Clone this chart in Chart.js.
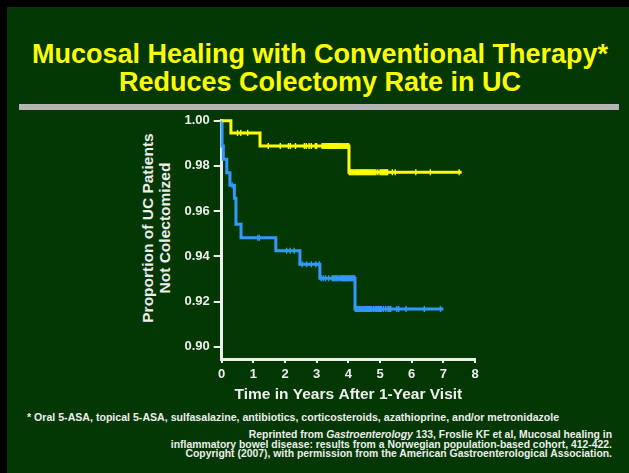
<!DOCTYPE html>
<html>
<head>
<meta charset="utf-8">
<script src="https://cdn.jsdelivr.net/npm/chart.js@4.4.0/dist/chart.umd.min.js"></script>
<style>
  html, body { margin: 0; padding: 0; }
  body { width: 629px; height: 473px; position: relative; overflow: hidden; background: #000; font-family: "Liberation Sans", Arial, sans-serif; }
  #slide { position: absolute; left: 7px; top: 7px; width: 622px; height: 466px; background: #013801; }
  #title { position: absolute; left: 0; top: 40px; width: 640px; text-align: center; color: #ffff00; font-weight: bold; font-size: 27px; line-height: 28px; }
  #rule { position: absolute; left: 19px; top: 104px; width: 600px; height: 6px; background: #b4b4b4; }
  #ytitle { position: absolute; left: 156px; top: 228px; width: 240px; transform: translate(-50%, -50%) rotate(-90deg); text-align: center; color: #eeeeee; font-weight: bold; font-size: 15.5px; line-height: 16.5px; }
  #foot { position: absolute; left: 27px; top: 411px; color: #eeeeee; font-weight: bold; font-size: 10.6px; line-height: 12px; white-space: nowrap; }
  #reprint { position: absolute; right: 17px; top: 430px; color: #eeeeee; font-weight: bold; font-size: 10.4px; line-height: 9.6px; text-align: right; white-space: nowrap; }
  #chart { position: absolute; left: 0; top: 0; }
</style>
</head>
<body>
<div id="slide"></div>
<div id="title">Mucosal Healing with Conventional Therapy*<br>Reduces Colectomy Rate in UC</div>
<div id="rule"></div>
<div id="ytitle">Proportion of UC Patients<br>Not Colectomized</div>
<div id="foot">* Oral 5-ASA, topical 5-ASA, sulfasalazine, antibiotics, corticosteroids, azathioprine, and/or metronidazole</div>
<div id="reprint">Reprinted from <i>Gastroenterology</i> 133, Froslie KF et al, Mucosal healing in<br>inflammatory bowel disease: results from a Norwegian population-based cohort, 412-422.<br>Copyright (2007), with permission from the American Gastroenterological Association.</div>
<canvas id="chart" width="629" height="473"></canvas>
<script>
// Kaplan-Meier steps (time in years, proportion not colectomized)
const yellowTimes = [0, 0.29, 1.21, 4.02, 7.58];
const yellowSurv  = [1.0, 0.9946, 0.9888, 0.9772, 0.9772];

const blueTimes = [0, 0.01, 0.05, 0.16, 0.26, 0.40, 0.45, 0.61, 1.71, 2.47, 3.10, 4.21, 7.00];
const blueSurv  = [1.0, 0.9888, 0.9829, 0.9770, 0.9714, 0.9657, 0.9542, 0.9482, 0.9425, 0.9365, 0.9303, 0.9167, 0.9167];

// censored observations (tick marks)
const yellowCensor = [
  0.50, 0.60, 0.82,
  1.47, 1.85, 2.11, 2.17, 2.33, 2.61, 2.67, 2.76, 2.83, 2.96, 3.00,
  3.17, 3.20, 3.23, 3.26, 3.29, 3.32, 3.35, 3.38, 3.41, 3.44, 3.47, 3.50, 3.53, 3.56, 3.59,
  3.62, 3.65, 3.68, 3.71, 3.74, 3.77, 3.80, 3.83, 3.86, 3.89, 3.92, 3.95, 3.98, 4.01,
  4.03, 4.06, 4.09, 4.12, 4.15, 4.18, 4.21, 4.24, 4.27, 4.29,
  4.33, 4.36, 4.39, 4.42, 4.45, 4.48, 4.51, 4.54, 4.57, 4.60, 4.63, 4.66, 4.69, 4.72,
  4.75, 4.78, 4.81, 4.84, 4.87,
  4.93,
  5.00, 5.03, 5.06, 5.09, 5.12, 5.15, 5.18, 5.21, 5.24,
  5.39, 5.48, 6.13, 6.59, 7.50
];
const blueCensor = [
  0.33, 1.14, 1.19, 2.05, 2.16, 2.29, 2.54, 2.68, 2.83, 2.97, 3.08,
  3.14, 3.21, 3.28, 3.38,
  3.49, 3.52, 3.55, 3.58, 3.61, 3.64, 3.67,
  3.71, 3.76,
  3.79, 3.82, 3.85, 3.88, 3.91, 3.94, 3.97, 4.00, 4.03, 4.06, 4.09, 4.12, 4.15, 4.18, 4.20,
  4.22, 4.25, 4.28, 4.31, 4.34, 4.37, 4.40, 4.43, 4.46, 4.49, 4.52, 4.55, 4.58, 4.61,
  4.64, 4.67, 4.70,
  4.74, 4.79, 4.84,
  4.87, 4.90, 4.93, 4.96, 4.99, 5.02, 5.05,
  5.11, 5.18,
  5.25, 5.28, 5.31, 5.34,
  5.53, 5.59, 5.82, 6.40, 6.91
];

const xTicks = [0, 1, 2, 3, 4, 5, 6, 7, 8];
const yTicks = [0.90, 0.92, 0.94, 0.96, 0.98, 1.00];

const YELLOW = '#ffff00';
const BLUE = '#3399ff';
const WHITE = '#eeeeee';

function steps(times, surv) {
  return times.map((t, i) => ({ x: t, y: surv[i] }));
}

// value of the curve at time t (last step at or before t)
function survAt(times, surv, t) {
  let v = surv[0];
  for (let i = 0; i < times.length; i++) {
    if (times[i] <= t) v = surv[i];
  }
  return v;
}

function censorPoints(list, times, surv) {
  return list.map(t => ({ x: t, y: survAt(times, surv, t) }));
}

Chart.defaults.font.family = '"Liberation Sans", Arial, sans-serif';
Chart.defaults.color = WHITE;

const lineStyle = { stepped: true, pointRadius: 0, borderWidth: 3, fill: false, clip: false };
const tickStyle = { showLine: false, pointStyle: 'line', rotation: 90, pointRadius: 3, pointBorderWidth: 1.4, clip: false };

new Chart(document.getElementById('chart'), {
  type: 'line',
  data: {
    datasets: [
      Object.assign({ label: 'Yellow censored', data: censorPoints(yellowCensor, yellowTimes, yellowSurv), borderColor: YELLOW, backgroundColor: YELLOW }, tickStyle),
      Object.assign({ label: 'Blue censored', data: censorPoints(blueCensor, blueTimes, blueSurv), borderColor: BLUE, backgroundColor: BLUE }, tickStyle),
      Object.assign({ label: 'Yellow', data: steps(yellowTimes, yellowSurv), borderColor: YELLOW }, lineStyle),
      Object.assign({ label: 'Blue', data: steps(blueTimes, blueSurv), borderColor: BLUE }, lineStyle)
    ]
  },
  options: {
    responsive: false,
    animation: false,
    layout: { padding: { left: 181.7, right: 154, top: 120.7, bottom: 66 } },
    plugins: { legend: { display: false }, tooltip: { enabled: false } },
    scales: {
      x: {
        type: 'linear',
        min: 0,
        max: 8,
        afterBuildTicks: s => { s.ticks = xTicks.map(v => ({ value: v })); },
        afterFit: s => { s.height = 48; },
        grid: { drawOnChartArea: false, color: WHITE, lineWidth: 2, tickLength: 4 },
        border: { color: WHITE, width: 3 },
        ticks: { color: WHITE, padding: 4, font: { size: 13, weight: 'bold' } },
        title: { display: true, text: 'Time in Years After 1-Year Visit', color: WHITE, padding: { top: 0, bottom: 3 }, font: { size: 15.5, weight: 'bold' } }
      },
      y: {
        type: 'linear',
        min: 0.8946,
        max: 1.0,
        afterBuildTicks: s => { s.ticks = yTicks.map(v => ({ value: v })); },
        afterFit: s => { s.width = 40; },
        grid: { drawOnChartArea: false, color: WHITE, lineWidth: 2, tickLength: 8 },
        border: { color: WHITE, width: 3 },
        ticks: { color: WHITE, padding: 4, font: { size: 13, weight: 'bold' }, callback: v => v.toFixed(2) }
      }
    }
  }
});
</script>
</body>
</html>
